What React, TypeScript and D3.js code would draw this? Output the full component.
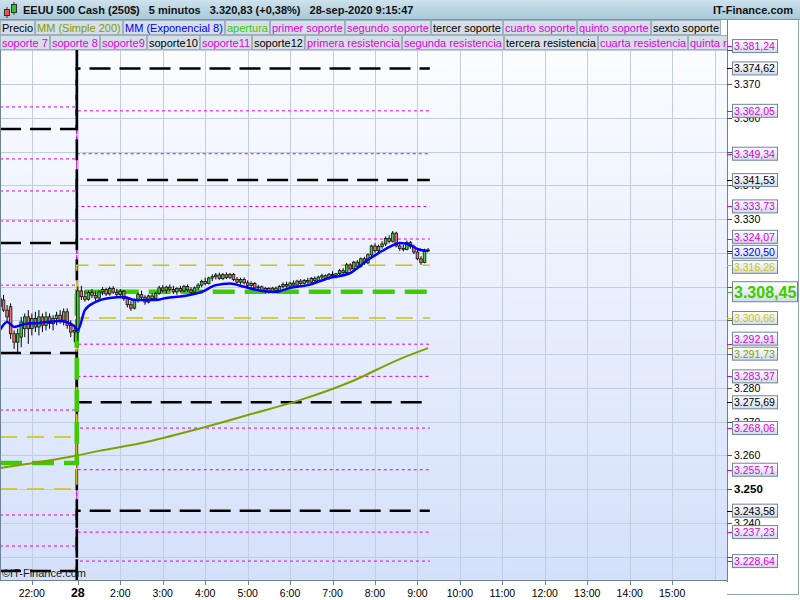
import * as d3 from "d3";

const FONT = "'Liberation Sans', Arial, sans-serif";
const MAGENTA = "#e000e0";
const BLUE = "#0000ff";
const OLIVE = "#80a000";
const GREEN = "#3ccc00";
const YELLOW = "#d0c400";

// header
const headerItems = ["EEUU 500 Cash (250$)", "5 minutos", "3.320,83 (+0,38%)", "28-sep-2020 9:15:47"];
const siteName = "IT-Finance.com";

// legend
const legendRow1 = ["Precio", "MM (Simple 200)", "MM (Exponencial 8)", "apertura", "primer soporte", "segundo soporte", "tercer soporte", "cuarto soporte", "quinto soporte", "sexto soporte"];
const legendRow1Colors = ["#000", OLIVE, BLUE, GREEN, MAGENTA, MAGENTA, "#000", MAGENTA, MAGENTA, "#000"];
const legendRow2 = ["soporte 7", "soporte 8", "soporte9", "soporte10", "soporte11", "soporte12", "primera resistencia", "segunda resistencia", "tercera resistencia", "cuarta resistencia", "quinta resistencia"];
const legendRow2Colors = [MAGENTA, MAGENTA, MAGENTA, "#000", MAGENTA, "#000", MAGENTA, MAGENTA, "#000", MAGENTA, MAGENTA];

// 5 minute bars, index 0 = first bar of the 28th
const firstBar = -22;
const candles: [number, number, number, number][] = [
  // previous session (O, H, L, C)
  [3306.5, 3308, 3303, 3304], [3306, 3307.5, 3302.5, 3303], [3303, 3304.5, 3299.5, 3301], [3304, 3305, 3294.5, 3296],
  [3296, 3297, 3291.5, 3293.5], [3293.5, 3297.5, 3290.5, 3296], [3295, 3301, 3292, 3299.5], [3297.5, 3302, 3295, 3301],
  [3301, 3303, 3293, 3297.5], [3297.5, 3302, 3295.5, 3300.5], [3300.5, 3302.5, 3296.5, 3298], [3298, 3303, 3295.5, 3301],
  [3301, 3302, 3296.5, 3298.5], [3298.5, 3302.5, 3297, 3301], [3301, 3302, 3297.5, 3299], [3299, 3301.5, 3297, 3300.5],
  [3300.5, 3302.5, 3298.5, 3301.5], [3301.5, 3303, 3299, 3300], [3300, 3303.5, 3298.5, 3302.5], [3302.5, 3303.5, 3297.5, 3298.5],
  [3298.5, 3300, 3295, 3296.5], [3296.5, 3298.5, 3293.5, 3297],
  // 28-sep
  [3296.5, 3310, 3294, 3308.7], [3308.7, 3310.2, 3306, 3307], [3307, 3308.8, 3305.5, 3306.2], [3306.2, 3308.8, 3305.8, 3308.2],
  [3308.2, 3309.2, 3306.6, 3307.4], [3307.4, 3308.6, 3305.8, 3306.6], [3306.6, 3308.8, 3306.2, 3308.4], [3308.4, 3309.8, 3307.4, 3309.1],
  [3309.1, 3309.6, 3307.2, 3307.8], [3307.8, 3310, 3307.3, 3309.4], [3309.4, 3310.1, 3307.8, 3308.3], [3308.3, 3309.3, 3306.9, 3307.6],
  [3307.6, 3309.2, 3306.8, 3308.6], [3308.6, 3309, 3305.8, 3306.4], [3306.4, 3307, 3303.8, 3304.6], [3304.6, 3305.6, 3302.8, 3303.6],
  [3303.6, 3306.4, 3303.2, 3305.9], [3305.9, 3308.2, 3305.2, 3307.6], [3307.6, 3308.8, 3306.2, 3306.8], [3306.8, 3307.4, 3304.6, 3305.4],
  [3305.4, 3307.6, 3305, 3307.2], [3307.2, 3308, 3305.9, 3306.4], [3306.4, 3308.4, 3306, 3308], [3308, 3310.2, 3307.6, 3309.6],
  [3309.6, 3310.4, 3308.3, 3308.8], [3308.8, 3310.2, 3307.9, 3309.8], [3309.8, 3310.6, 3308.6, 3309.1], [3309.1, 3310.2, 3307.8, 3308.4],
  [3308.4, 3309.8, 3307.6, 3309.4], [3309.4, 3310.2, 3308.2, 3308.7], [3308.7, 3310.5, 3308.3, 3310], [3310, 3310.6, 3308.4, 3309],
  [3309, 3309.8, 3307.6, 3308.3], [3308.3, 3310, 3307.9, 3309.6], [3309.6, 3311, 3309, 3310.4], [3310.4, 3312, 3309.8, 3311.5],
  [3311.5, 3312.6, 3310.3, 3310.9], [3310.9, 3312.9, 3310.6, 3312.5], [3312.5, 3313.6, 3311.6, 3312.9], [3312.9, 3314, 3312.1, 3313.4],
  [3313.4, 3314.1, 3312, 3312.4], [3312.4, 3314, 3311.9, 3313.5], [3313.5, 3314.2, 3312.2, 3312.7], [3312.7, 3314, 3312.2, 3313.6],
  [3313.6, 3314, 3311.6, 3312.1], [3312.1, 3312.8, 3310.8, 3311.3], [3311.3, 3312.6, 3310.6, 3312.1], [3312.1, 3312.7, 3310.6, 3311.1],
  [3311.1, 3311.8, 3309.8, 3310.3], [3310.3, 3311.5, 3309.5, 3310.9], [3310.9, 3311.3, 3309.2, 3309.6], [3309.6, 3310.5, 3308.6, 3309.9],
  [3309.9, 3310.3, 3308.4, 3308.8], [3308.8, 3309.9, 3308, 3309.4], [3309.4, 3309.8, 3307.9, 3308.4], [3308.4, 3309.9, 3308, 3309.5],
  [3309.5, 3310, 3308.1, 3308.8], [3308.8, 3310.4, 3308.4, 3310], [3310, 3311.2, 3309.4, 3310.6], [3310.6, 3311.4, 3309.6, 3310.1],
  [3310.1, 3311.4, 3309.6, 3311], [3311, 3311.8, 3310, 3310.4], [3310.4, 3312, 3310, 3311.6], [3311.6, 3312.2, 3310.4, 3310.9],
  [3310.9, 3312.2, 3310.5, 3311.8], [3311.8, 3312.6, 3310.8, 3311.3], [3311.3, 3312.8, 3311, 3312.4], [3312.4, 3313, 3311.2, 3311.8],
  [3311.8, 3313.2, 3311.4, 3312.8], [3312.8, 3313.8, 3312, 3313.2], [3313.2, 3313.6, 3311.8, 3312.4], [3312.4, 3314, 3312, 3313.6],
  [3313.6, 3314.5, 3312.8, 3313.2], [3313.2, 3314, 3312.4, 3313.8], [3313.8, 3315.2, 3313.2, 3314.7], [3314.7, 3315.4, 3313.6, 3314.1],
  [3314.1, 3317, 3313.8, 3316.4], [3316.4, 3316.9, 3314.6, 3315.2], [3315.2, 3317.6, 3314.8, 3317.2], [3317.2, 3317.8, 3315.4, 3316],
  [3316, 3318.6, 3315.6, 3318.2], [3318.2, 3318.8, 3316.4, 3317], [3317, 3319.8, 3316.6, 3319.4], [3319.4, 3322.4, 3318.6, 3322],
  [3322, 3322.8, 3320, 3320.6], [3320.6, 3322.4, 3320, 3321.9], [3321.9, 3323.4, 3321.2, 3322.6], [3322.6, 3324.8, 3322, 3324.2],
  [3324.2, 3325.2, 3322.8, 3323.4], [3323.4, 3326.4, 3323, 3325.8], [3325.8, 3326.2, 3321.6, 3322], [3322, 3322.9, 3320.6, 3321.3],
  [3321.3, 3322.4, 3320.4, 3321], [3321, 3323.6, 3320.7, 3323], [3323, 3323.5, 3321.2, 3321.8], [3321.8, 3322.4, 3319.6, 3320.2],
  [3320.2, 3320.8, 3317.8, 3318.2], [3318.2, 3319, 3316.4, 3317.1], [3317.1, 3321.2, 3316.9, 3320.6], [3320.6, 3321.4, 3320.2, 3320.83],
];
const lastBar = firstBar + candles.length - 1;

// moving averages
const emaBars = [-22, -20, -18, -15, -11, -5, -1, 0, 2, 5, 9, 13, 16, 22, 25, 30, 35, 39, 43, 47, 52, 56, 60, 65, 71, 77, 82, 85, 88, 91, 94, 96, 99];
const emaValues = [3297.1, 3299.5, 3298.0, 3298.9, 3299.2, 3299.8, 3298.3, 3297.1, 3303.0, 3305.4, 3306.6, 3306.9, 3306.0, 3306.0, 3306.6, 3307.2, 3308.4, 3310.4, 3310.9, 3309.9, 3308.7, 3308.4, 3309.6, 3310.4, 3312.5, 3314.0, 3317.9, 3319.9, 3321.7, 3322.9, 3322.3, 3321.1, 3320.5];
const smaBars = [-22, -1, 0, 6, 18, 35, 49, 63, 77, 91, 99];
const smaValues = [3256.2, 3259.8, 3260.0, 3261.3, 3263.6, 3268.1, 3272.2, 3276.4, 3281.7, 3288.5, 3291.73];

// daily levels: previous session -> 28-sep
const blackPrev = [3356.7, 3322.9, 3290.3, 3225.7, 3402];
const blackNow = [3374.62, 3341.53, 3275.69, 3243.58, 3208];
const magentaPrev = [3363.2, 3347.8, 3338.3, 3329.4, 3310.4, 3273.4, 3242.3, 3233.1, 3398, 3392, 3215];
const magentaNow = [3381.24, 3362.05, 3349.34, 3333.73, 3324.07, 3292.91, 3283.37, 3268.06, 3255.71, 3237.23, 3228.64];
const yellowPrev = [3265.4, 3250.0];
const yellowNow = [3316.26, 3300.66];
const openPrev = 3257.7;
const openNow = 3308.45;

// axes
const priceTicks = d3.range(3230, 3381, 10);
const boldTick = 3250;
const timeTickBars = [-13, 0, 12, 24, 36, 48, 60, 72, 84, 96, 108, 120, 132, 144, 156, 168];
const timeTickLabels = ["22:00", "28", "2:00", "3:00", "4:00", "5:00", "6:00", "7:00", "8:00", "9:00", "10:00", "11:00", "12:00", "13:00", "14:00", "15:00"];
const extraGridBars = [180];

const locale = d3.formatLocale({ decimal: ",", thousands: ".", grouping: [3], currency: ["", ""] });
const fmt2 = locale.format(",.2f");
const fmt0 = locale.format(",.0f");

const ctx = document.createElement("canvas").getContext("2d")!;
function textWidth(t: string, font: string) {
  ctx.font = font;
  return ctx.measureText(t).width;
}

type Label = { v: number; color: string; big?: boolean; h: number; cy: number; by?: number };

// push overlapping price boxes apart
function spread(items: Label[]) {
  const sorted = items.slice().sort((a, b) => a.cy - b.cy);
  let groups = sorted.map((it) => ({ items: [it], top: it.cy - it.h / 2, h: it.h }));
  let changed = true;
  while (changed) {
    changed = false;
    for (let i = 1; i < groups.length; i++) {
      const a = groups[i - 1], b = groups[i];
      if (a.top + a.h > b.top) {
        const its = a.items.concat(b.items);
        let off = 0, sum = 0;
        for (const it of its) { sum += it.cy - (off + it.h / 2); off += it.h; }
        groups.splice(i - 1, 2, { items: its, top: sum / its.length, h: off });
        changed = true;
        break;
      }
    }
  }
  for (const g of groups) {
    let off = g.top;
    for (const it of g.items) { it.by = off + it.h / 2; off += it.h; }
  }
  return sorted;
}

export default function App() {
  const width = 800, height = 600;
  const plotRight = 727, plotTop = 19, plotBottom = 580;

  const x = d3.scaleLinear([firstBar, 183.5], [0, plotRight]);
  const y = d3.scaleLinear([3250, 3370], [489, 84]);
  const stepAt = -0.3;

  const step = (prev: number, now: number) =>
    d3.line()([[x(firstBar), y(prev)], [x(stepAt), y(prev)], [x(stepAt), y(now)], [x(lastBar + 0.5), y(now)]]) ?? undefined;

  const emaLine = d3.line<number>().x((_, i) => x(emaBars[i])).y((d) => y(d)).curve(d3.curveMonotoneX);
  const smaLine = d3.line<number>().x((_, i) => x(smaBars[i])).y((d) => y(d)).curve(d3.curveMonotoneX);

  // legend layout from measured text
  const legendFont = `11px ${FONT}`;
  const layoutRow = (labels: string[]) => {
    let cx = 0;
    return labels.map((t) => {
      const w = Math.round(textWidth(t, legendFont) + 3);
      const r = { t, x: cx, w };
      cx += w + 1;
      return r;
    });
  };
  const row1 = layoutRow(legendRow1);
  const row2 = layoutRow(legendRow2);

  const headerFont = `bold 11px ${FONT}`;
  let hx = 23;
  const header = headerItems.map((t) => {
    const r = { t, x: hx };
    hx += textWidth(t, headerFont) + 9;
    return r;
  });

  // right axis boxes
  const labels: Label[] = [
    ...magentaNow.map((v) => ({ v, color: MAGENTA, h: 15, cy: y(v) })),
    ...blackNow.map((v) => ({ v, color: "#000", h: 15, cy: y(v) })),
    ...yellowNow.map((v) => ({ v, color: YELLOW, h: 15, cy: y(v) })),
    { v: emaValues[emaValues.length - 1], color: BLUE, h: 15, cy: y(emaValues[emaValues.length - 1]) },
    { v: smaValues[smaValues.length - 1], color: OLIVE, h: 15, cy: y(smaValues[smaValues.length - 1]) },
    { v: openNow, color: GREEN, big: true, h: 23, cy: y(openNow) },
  ].filter((d) => d.cy > plotTop && d.cy < plotBottom);
  const placed = spread(labels);
  // tick labels that sit entirely under a price box are not drawn
  const hidden = (v: number) => placed.some((d) => Math.abs(y(v) - d.by!) < (d.big ? 8 : 5));

  const levelGroups = [
    { prev: magentaPrev, now: magentaNow, color: MAGENTA, w: 1, dash: "3,3" },
    { prev: blackPrev, now: blackNow, color: "#000", w: 2.5, dash: "21,9" },
    { prev: yellowPrev, now: yellowNow, color: YELLOW, w: 1.5, dash: "17,10" },
    { prev: [openPrev], now: [openNow], color: GREEN, w: 4.5, dash: "22,10" },
  ];

  return (
    <svg width={width} height={height} style={{ position: "absolute", left: 0, top: 0, fontFamily: FONT }}>
      <defs>
        <linearGradient id="plotBg" x1="0" y1="0" x2="0" y2="1">
          <stop offset="0" stopColor="#fdfeff" />
          <stop offset="1" stopColor="#d4e0fa" />
        </linearGradient>
        <linearGradient id="headBg" x1="0" y1="0" x2="0" y2="1">
          <stop offset="0" stopColor="#cde2ec" />
          <stop offset="1" stopColor="#a9c9d9" />
        </linearGradient>
        <linearGradient id="boxBg" x1="0" y1="0" x2="0" y2="1">
          <stop offset="0" stopColor="#ffffff" />
          <stop offset="1" stopColor="#d2dbea" />
        </linearGradient>
        <clipPath id="plotClip">
          <rect x={0} y={plotTop} width={plotRight} height={plotBottom - plotTop} />
        </clipPath>
        <clipPath id="legendClip">
          <rect x={0} y={0} width={plotRight} height={60} />
        </clipPath>
      </defs>

      <rect width={width} height={height} fill="#ffffff" />
      <rect x={0} y={plotTop} width={plotRight} height={plotBottom - plotTop} fill="url(#plotBg)" />

      {/* grid */}
      <g stroke="#c3cde0" strokeWidth={1}>
        {priceTicks.map((v) => (
          <line key={v} x1={0} x2={plotRight} y1={Math.round(y(v)) + 0.5} y2={Math.round(y(v)) + 0.5} />
        ))}
        {timeTickBars.concat(extraGridBars).map((b) => (
          <line key={b} x1={Math.round(x(b)) + 0.5} x2={Math.round(x(b)) + 0.5} y1={plotTop} y2={plotBottom} />
        ))}
      </g>

      <g clipPath="url(#plotClip)">
        {/* support / resistance / open levels */}
        {levelGroups.map((g, gi) => (
          <g key={gi} fill="none" stroke={g.color} strokeWidth={g.w} strokeDasharray={g.dash}>
            {g.now.map((v, i) => (
              <path key={i} d={step(g.prev[i], v)} />
            ))}
          </g>
        ))}

        <path d={smaLine(smaValues) ?? undefined} fill="none" stroke={OLIVE} strokeWidth={2} />

        {/* candles */}
        <g>
          {candles.map(([o, h, l, c], i) => {
            const cx = x(firstBar + i);
            const top = y(Math.max(o, c));
            const bh = Math.max(1, Math.abs(y(o) - y(c)));
            return (
              <g key={i}>
                <line x1={cx} x2={cx} y1={y(h)} y2={y(l)} stroke="#000" strokeWidth={1} />
                <rect x={cx - 1.3} y={top} width={2.6} height={bh} fill={c >= o ? "#3ccf3c" : "#ee6e6e"} stroke="#111" strokeWidth={0.8} />
              </g>
            );
          })}
        </g>

        <path d={emaLine(emaValues) ?? undefined} fill="none" stroke={BLUE} strokeWidth={2.5} />
      </g>

      <text x={2} y={577} fontSize={11} fill="#1a1a1a">©IT-Finance.com</text>

      {/* plot frame */}
      <line x1={0.5} x2={0.5} y1={plotTop} y2={plotBottom} stroke="#6d8292" />
      <line x1={0} x2={plotRight} y1={plotBottom + 0.5} y2={plotBottom + 0.5} stroke="#6d8292" />
      <line x1={plotRight + 0.5} x2={plotRight + 0.5} y1={plotTop} y2={plotBottom + 2} stroke="#6d8292" />

      {/* legend */}
      <g clipPath="url(#legendClip)" fontSize={11}>
        {[row1, row2].map((row, ri) => (
          <g key={ri} transform={`translate(0,${20 + ri * 15})`}>
            {row.map((b, i) => (
              <g key={i}>
                <rect x={b.x + 0.5} y={0.5} width={b.w} height={14} fill="#d6dee8" stroke="#9fb0be" />
                <text x={b.x + 2} y={11.5} fill={(ri === 0 ? legendRow1Colors : legendRow2Colors)[i]}>{b.t}</text>
              </g>
            ))}
          </g>
        ))}
      </g>

      {/* header */}
      <rect x={0} y={0} width={width} height={19} fill="url(#headBg)" />
      <line x1={0} x2={width} y1={19.5} y2={19.5} stroke="#7a96a6" />
      <g stroke="#333" strokeWidth={1}>
        <line x1={7} x2={7} y1={7} y2={18} />
        <rect x={4.5} y={9.5} width={5} height={6} fill="#ee5050" />
        <line x1={14} x2={14} y1={2} y2={15} />
        <rect x={11.5} y={4.5} width={5} height={8} fill="#30c030" />
      </g>
      <g fontSize={11} fontWeight="bold" fill="#111">
        {header.map((h, i) => (
          <text key={i} x={h.x} y={14}>{h.t}</text>
        ))}
        <text x={793} y={14} textAnchor="end">{siteName}</text>
      </g>

      {/* right price axis */}
      <line x1={798.5} x2={798.5} y1={plotTop} y2={594} stroke="#8fa3b2" />
      <line x1={plotRight} x2={799} y1={594.5} y2={594.5} stroke="#8fa3b2" />
      <g fontSize={10.5}>
        {priceTicks.map((v) => (
          <g key={v}>
            <line x1={plotRight} x2={plotRight + 5} y1={Math.round(y(v)) + 0.5} y2={Math.round(y(v)) + 0.5} stroke="#555" />
            {!hidden(v) && (
              <text x={734} y={y(v) + 4} fill="#000" fontWeight={v === boldTick ? "bold" : "normal"} fontSize={v === boldTick ? 11.5 : 10.5}>
                {fmt0(v)}
              </text>
            )}
          </g>
        ))}
        {placed.map((d, i) => (
          <g key={i}>
            <line x1={plotRight} x2={plotRight + 5} y1={Math.round(d.cy) + 0.5} y2={Math.round(d.cy) + 0.5} stroke={d.color} />
            {d.big ? (
              <>
                <rect x={732.5} y={d.by! - 10} width={65} height={20} fill="url(#boxBg)" stroke="#6f8596" />
                <text x={734} y={d.by! + 6} fill={d.color} fontSize={16} fontWeight="bold">{fmt2(d.v)}</text>
              </>
            ) : (
              <>
                <rect x={732.5} y={d.by! - 6.5} width={45} height={13} fill="url(#boxBg)" stroke="#6f8596" />
                <text x={734} y={d.by! + 4} fill={d.color}>{fmt2(d.v)}</text>
              </>
            )}
          </g>
        ))}
      </g>

      {/* time axis */}
      <g>
        {timeTickBars.map((b, i) => (
          <g key={b}>
            <line x1={Math.round(x(b)) + 0.5} x2={Math.round(x(b)) + 0.5} y1={plotBottom} y2={plotBottom + 5} stroke="#6d8292" />
            <text
              x={x(b)}
              y={597}
              textAnchor="middle"
              fontSize={timeTickLabels[i] === "28" ? 12.5 : 10.5}
              fontWeight={timeTickLabels[i] === "28" ? "bold" : "normal"}
              fill="#000"
            >
              {timeTickLabels[i]}
            </text>
          </g>
        ))}
      </g>
    </svg>
  );
}
